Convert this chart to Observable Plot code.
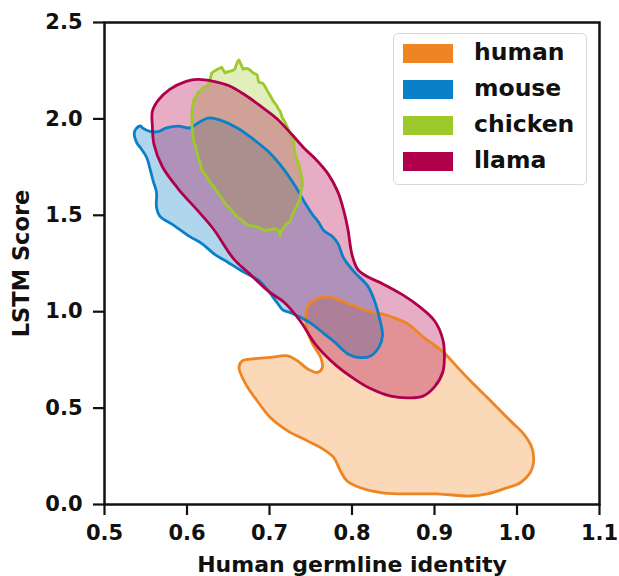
<!DOCTYPE html>
<html>
<head>
<meta charset="utf-8">
<script src="https://cdn.jsdelivr.net/npm/d3@7"></script>
<script src="https://cdn.jsdelivr.net/npm/@observablehq/plot@0.6"></script>
<style>
  html, body { margin: 0; padding: 0; background: white; }
  #wrap { position: relative; width: 619px; height: 576px; font-family: "DejaVu Sans", sans-serif; }
  #legend { position: absolute; left: 393px; top: 33px; width: 194px; height: 152px;
    border: 1.5px solid #d8d8d8; border-radius: 5px; background: rgba(255,255,255,0.85); box-sizing: border-box; }
  .row { position: absolute; left: 9px; height: 19px; }
  .sw { position: absolute; left: 0; top: 0; width: 50px; height: 19px; }
  .lab { position: absolute; left: 71px; top: -6px; font-weight: bold; font-size: 23.5px; white-space: nowrap; color: #111; }
</style>
</head>
<body>
<div id="wrap"><div id="chart"></div><div id="legend"></div></div>
<script>
const species = ["human", "mouse", "chicken", "llama"];
const colors = ["#ee8522", "#0a80c8", "#9dc92a", "#b0004c"];
const xTicks = [0.5, 0.6, 0.7, 0.8, 0.9, 1.0, 1.1];
const yTicks = [0.0, 0.5, 1.0, 1.5, 2.0, 2.5];

const humanX = [0.663,0.667,0.681,0.701,0.722,0.734,0.746,0.758,0.764,0.762,0.752,0.746,0.744,0.747,0.758,0.770,0.786,0.802,0.818,0.835,0.850,0.867,0.887,0.911,0.928,0.947,0.964,0.976,0.992,1.008,1.018,1.020,1.016,1.004,0.984,0.964,0.944,0.903,0.862,0.835,0.810,0.794,0.786,0.778,0.762,0.746,0.722,0.701,0.685,0.671];
const humanY = [0.711,0.745,0.756,0.763,0.771,0.745,0.704,0.685,0.709,0.763,0.834,0.901,0.990,1.031,1.068,1.078,1.057,1.031,1.005,0.990,0.970,0.938,0.867,0.789,0.711,0.626,0.555,0.503,0.434,0.366,0.295,0.217,0.165,0.113,0.081,0.055,0.044,0.055,0.055,0.061,0.087,0.122,0.174,0.243,0.295,0.330,0.382,0.451,0.538,0.626];

const mouseX = [0.544,0.546,0.556,0.565,0.575,0.589,0.603,0.608,0.618,0.627,0.642,0.661,0.680,0.699,0.718,0.733,0.742,0.752,0.759,0.766,0.776,0.783,0.790,0.804,0.819,0.828,0.833,0.837,0.833,0.823,0.809,0.795,0.780,0.766,0.752,0.737,0.728,0.716,0.709,0.699,0.687,0.675,0.663,0.649,0.634,0.618,0.603,0.584,0.567,0.563,0.563,0.559,0.555,0.551,0.544,0.539,0.536,0.539];
const mouseY = [1.963,1.953,1.934,1.934,1.953,1.963,1.953,1.963,1.991,2.005,1.991,1.953,1.896,1.829,1.734,1.639,1.572,1.505,1.467,1.420,1.391,1.353,1.277,1.200,1.134,1.048,0.972,0.877,0.819,0.772,0.762,0.781,0.838,0.886,0.934,0.972,0.991,1.010,1.048,1.105,1.162,1.191,1.220,1.258,1.296,1.353,1.391,1.448,1.496,1.543,1.620,1.677,1.744,1.801,1.848,1.877,1.925,1.953];

const chickenX = [0.625,0.628,0.630,0.637,0.642,0.646,0.650,0.654,0.658,0.661,0.663,0.666,0.668,0.672,0.675,0.680,0.685,0.687,0.692,0.694,0.699,0.701,0.704,0.709,0.711,0.713,0.716,0.718,0.721,0.723,0.725,0.729,0.730,0.731,0.733,0.736,0.737,0.739,0.740,0.738,0.737,0.734,0.733,0.730,0.728,0.726,0.725,0.720,0.718,0.714,0.713,0.711,0.708,0.704,0.699,0.694,0.690,0.685,0.680,0.675,0.670,0.666,0.661,0.656,0.651,0.646,0.642,0.637,0.632,0.627,0.624,0.618,0.616,0.613,0.611,0.608,0.607,0.606,0.606,0.606,0.607,0.608,0.611,0.613,0.617,0.620];
const chickenY = [2.172,2.205,2.239,2.258,2.268,2.239,2.245,2.249,2.258,2.296,2.306,2.277,2.258,2.262,2.258,2.239,2.229,2.191,2.185,2.172,2.134,2.120,2.096,2.067,2.050,2.039,2.001,1.990,1.963,1.945,1.925,1.890,1.848,1.820,1.791,1.760,1.734,1.700,1.658,1.620,1.582,1.560,1.543,1.525,1.505,1.485,1.467,1.455,1.439,1.420,1.391,1.420,1.428,1.429,1.425,1.420,1.432,1.439,1.445,1.448,1.460,1.477,1.490,1.515,1.540,1.563,1.590,1.620,1.650,1.677,1.700,1.734,1.770,1.810,1.850,1.886,1.925,1.963,2.000,2.039,2.070,2.096,2.115,2.134,2.150,2.163];

const llamaX = [0.558,0.565,0.579,0.599,0.613,0.632,0.651,0.670,0.689,0.709,0.728,0.742,0.756,0.771,0.783,0.790,0.795,0.800,0.807,0.819,0.838,0.862,0.881,0.900,0.910,0.912,0.910,0.900,0.886,0.869,0.847,0.823,0.804,0.780,0.756,0.737,0.718,0.699,0.675,0.656,0.632,0.613,0.589,0.570,0.560,0.558];
const llamaY = [2.039,2.096,2.153,2.195,2.205,2.195,2.172,2.125,2.067,2.001,1.915,1.848,1.791,1.715,1.620,1.524,1.429,1.296,1.220,1.181,1.143,1.086,1.029,0.953,0.857,0.762,0.686,0.610,0.562,0.553,0.562,0.600,0.648,0.724,0.829,0.953,1.048,1.105,1.200,1.277,1.429,1.524,1.639,1.753,1.867,1.963];

const shapes = [
  {name: "human", xs: humanX, ys: humanY, curve: "catmull-rom-closed"},
  {name: "mouse", xs: mouseX, ys: mouseY, curve: "catmull-rom-closed"},
  {name: "chicken", xs: chickenX, ys: chickenY, curve: "linear-closed"},
  {name: "llama", xs: llamaX, ys: llamaY, curve: "catmull-rom-closed"}
];

const rows = [];
shapes.forEach(s => s.xs.forEach((x, i) => rows.push({species: s.name, x, y: s.ys[i]})));

const font = "DejaVu Sans";

const fillMarks = shapes.map((s, k) =>
  Plot.line(rows.filter(r => r.species === s.name), {
    x: "x", y: "y", curve: s.curve,
    fill: colors[k], fillOpacity: 0.32, stroke: "none"
  })
);
const strokeMarks = shapes.map((s, k) =>
  Plot.line(rows.filter(r => r.species === s.name), {
    x: "x", y: "y", curve: s.curve,
    stroke: colors[k], strokeWidth: 2.8, strokeLinejoin: "round"
  })
);

const chart = Plot.plot({
  width: 619, height: 576,
  marginLeft: 104, marginRight: 20, marginTop: 22, marginBottom: 72,
  x: {domain: [0.5, 1.1]},
  y: {domain: [0, 2.5]},
  style: {fontFamily: font, fontWeight: "bold", fontSize: "21px", color: "#111", background: "white"},
  marks: [
    ...fillMarks,
    ...strokeMarks,
    Plot.frame({stroke: "#111", strokeWidth: 2.5}),
    Plot.axisX({ticks: xTicks, tickFormat: d3.format(".1f"), tickSize: 11, tickPadding: 10, strokeWidth: 2.2, label: null, fontSize: 21}),
    Plot.axisY({ticks: yTicks, tickFormat: d3.format(".1f"), tickSize: 11, tickPadding: 11, strokeWidth: 2.2, label: null, fontSize: 21}),
    Plot.text(["Human germline identity"], {frameAnchor: "bottom", dy: 67, fontSize: 22, fontWeight: "bold", fill: "#111"}),
    Plot.text(["LSTM Score"], {frameAnchor: "left", textAnchor: "middle", dx: -83, rotate: -90, fontSize: 22.5, fontWeight: "bold", fill: "#111"})
  ]
});
document.getElementById("chart").appendChild(chart);

const leg = document.getElementById("legend");
const tops = [10, 46, 82, 118];
species.forEach((s, i) => {
  const r = document.createElement("div");
  r.className = "row";
  r.style.top = tops[i] + "px";
  r.innerHTML = `<div class="sw" style="background:${colors[i]}"></div><div class="lab">${s}</div>`;
  leg.appendChild(r);
});
</script>
</body>
</html>
